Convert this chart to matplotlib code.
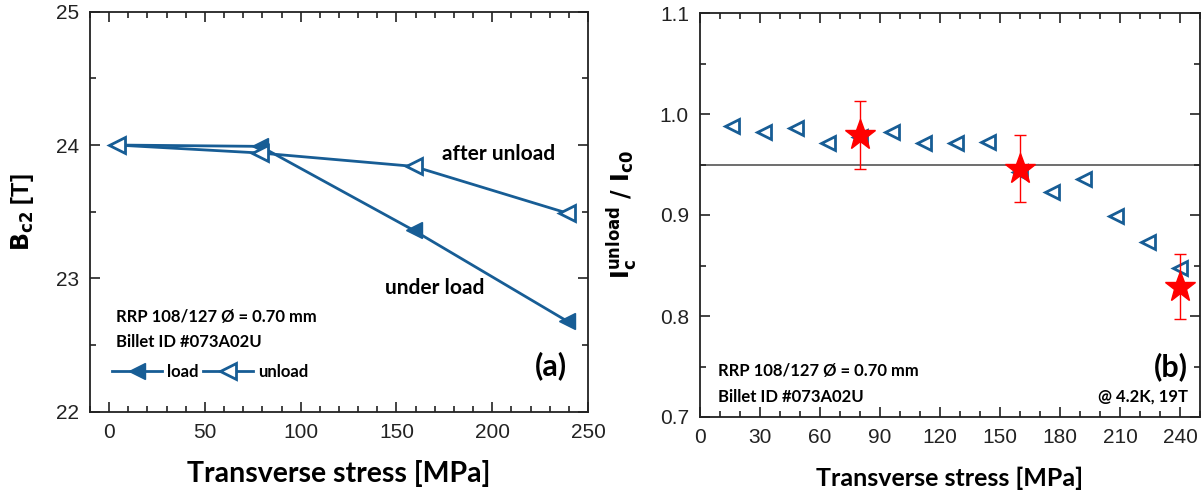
import matplotlib
matplotlib.use("Agg")
import matplotlib.pyplot as plt
from matplotlib.ticker import MultipleLocator

# (a) upper critical field vs transverse stress
stress_a = [4, 79, 159, 239]
bc2_load = [24.00, 23.99, 23.36, 22.68]
bc2_unload = [24.00, 23.94, 23.84, 23.49]

# (b) normalised critical current after unloading
stress_b = [16, 32, 48, 64, 80, 96, 112, 128, 144, 160, 176, 192, 208, 224, 240]
ic_ratio = [0.988, 0.9825, 0.9864, 0.971, 0.9775, 0.9825, 0.971, 0.9716,
            0.9726, 0.943, 0.9225, 0.9353, 0.8993, 0.873, 0.8472]
star_x = [80, 160, 240]
star_y = [0.979, 0.946, 0.829]
star_err = [0.0335, 0.033, 0.032]
limit_95 = 0.95

blue = "#175d95"
red = "#ff0000"
note_font = "Lato"
tick_font = "Liberation Sans"

fig = plt.figure(figsize=(12.02, 4.96), dpi=100)


def style_axes(ax):
    ax.tick_params(which="both", direction="in", top=True, right=True,
                   width=1.2, colors="#222222")
    ax.tick_params(which="major", length=7, labelsize=15, pad=8)
    ax.tick_params(which="minor", length=4)
    for lab in ax.get_xticklabels() + ax.get_yticklabels():
        lab.set_fontfamily(tick_font)
    for s in ax.spines.values():
        s.set_linewidth(1.3)
        s.set_color("#222222")


# ---- panel (a)
ax1 = fig.add_axes([90 / 1202, 84.3 / 496, 498 / 1202, 400 / 496])
l1, = ax1.plot(stress_a, bc2_load, color=blue, lw=2, marker="<", ms=11,
               mfc=blue, mec=blue, label="load")
l2, = ax1.plot(stress_a, bc2_unload, color=blue, lw=2, marker="<", ms=11,
               mfc="white", mec=blue, mew=2, label="unload")
ax1.set_xlim(-10, 250)
ax1.set_ylim(22, 25)
ax1.xaxis.set_major_locator(MultipleLocator(50))
ax1.xaxis.set_minor_locator(MultipleLocator(10))
ax1.yaxis.set_major_locator(MultipleLocator(1))
ax1.yaxis.set_minor_locator(MultipleLocator(0.5))
style_axes(ax1)
ax1.set_xlabel("Transverse stress [MPa]", fontfamily=note_font,
               fontweight="bold", fontsize=20.5, labelpad=13)
ax1.set_ylabel(r"$\mathbf{B_{c2}}$ [T]", fontfamily=tick_font,
               fontweight="bold", fontsize=17, labelpad=14)

ax1.text(174, 23.93, "after unload", fontfamily=note_font, fontweight="bold",
         fontsize=15, va="center")
ax1.text(144, 22.93, "under load", fontfamily=note_font, fontweight="bold",
         fontsize=15, va="center")
ax1.text(3.6, 22.71, "RRP 108/127 Ø = 0.70 mm", fontfamily=note_font,
         fontweight="bold", fontsize=12, va="center")
ax1.text(3.6, 22.52, "Billet ID #073A02U", fontfamily=note_font,
         fontweight="bold", fontsize=12, va="center")
ax1.text(0.958, 0.115, "(a)", transform=ax1.transAxes, ha="right",
         va="center", fontfamily=note_font, fontweight="bold", fontsize=22)
leg = ax1.legend(handles=[l1, l2], ncol=2, frameon=False, numpoints=1,
                 loc="center left", bbox_to_anchor=(0.044, 0.10),
                 borderpad=0, borderaxespad=0,
                 handlelength=3.0, handletextpad=0.3, columnspacing=0.3,
                 prop={"family": note_font, "weight": "bold", "size": 12})

# ---- panel (b)
ax2 = fig.add_axes([700 / 1202, 79 / 496, 500 / 1202, 404 / 496])
ax2.axhline(limit_95, color="#555555", lw=1.2, zorder=1)
ax2.plot(stress_b, ic_ratio, ls="none", marker="<", ms=10, mfc="none",
         mec=blue, mew=2, zorder=2)
ax2.errorbar(star_x, star_y, yerr=star_err, fmt="*", color=red, ms=23,
             ecolor=red, elinewidth=1, capsize=4, capthick=1, zorder=3)
ax2.set_xlim(0, 250)
ax2.set_ylim(0.7, 1.1)
ax2.xaxis.set_major_locator(MultipleLocator(30))
ax2.xaxis.set_minor_locator(MultipleLocator(10))
ax2.yaxis.set_major_locator(MultipleLocator(0.1))
ax2.yaxis.set_minor_locator(MultipleLocator(0.05))
ax2.yaxis.set_major_formatter(plt.FormatStrFormatter("%.1f"))
style_axes(ax2)
ax2.set_xlabel("Transverse stress [MPa]", fontfamily=note_font,
               fontweight="bold", fontsize=18, labelpad=14)
ax2.set_ylabel(r"$\mathbf{I_c^{unload}\ /\ I_{c0}}$", fontfamily=tick_font,
               fontsize=17, labelpad=14)

ax2.text(0.035, 0.115, "RRP 108/127 Ø = 0.70 mm", transform=ax2.transAxes,
         fontfamily=note_font, fontweight="bold", fontsize=12, va="center")
ax2.text(0.035, 0.05, "Billet ID #073A02U", transform=ax2.transAxes,
         fontfamily=note_font, fontweight="bold", fontsize=12, va="center")
ax2.text(0.975, 0.05, "@ 4.2K, 19T", transform=ax2.transAxes, ha="right",
         fontfamily=note_font, fontweight="bold", fontsize=12, va="center")
ax2.text(0.975, 0.125, "(b)", transform=ax2.transAxes, ha="right",
         va="center", fontfamily=note_font, fontweight="bold", fontsize=22)

fig.savefig("out.png", dpi=100)
